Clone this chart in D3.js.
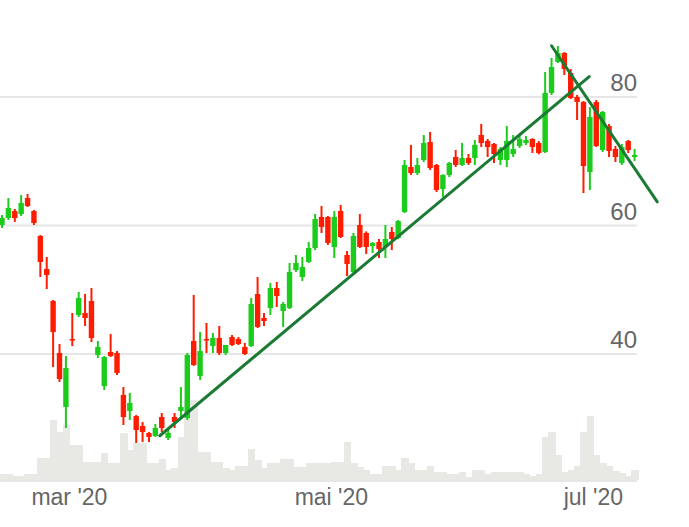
<!DOCTYPE html>
<html>
<head>
<meta charset="utf-8">
<script src="https://cdn.jsdelivr.net/npm/d3@7"></script>
<style>
  html, body { margin: 0; padding: 0; background: #ffffff; }
  svg { display: block; }
</style>
</head>
<body>
<div id="chart"></div>
<script>
// ---- Data ----
const dates = [
  "2020-02-17","2020-02-18","2020-02-19","2020-02-20","2020-02-21","2020-02-24","2020-02-25","2020-02-26","2020-02-27","2020-02-28",
  "2020-03-02","2020-03-03","2020-03-04","2020-03-05","2020-03-06","2020-03-09","2020-03-10","2020-03-11","2020-03-12","2020-03-13",
  "2020-03-16","2020-03-17","2020-03-18","2020-03-19","2020-03-20","2020-03-23","2020-03-24","2020-03-25","2020-03-26","2020-03-27",
  "2020-03-30","2020-03-31","2020-04-01","2020-04-02","2020-04-03","2020-04-06","2020-04-07","2020-04-08","2020-04-14","2020-04-15",
  "2020-04-16","2020-04-17","2020-04-20","2020-04-21","2020-04-22","2020-04-23","2020-04-24","2020-04-27","2020-04-28","2020-04-29",
  "2020-04-30","2020-05-04","2020-05-05","2020-05-06","2020-05-07","2020-05-08","2020-05-11","2020-05-12","2020-05-13","2020-05-14",
  "2020-05-15","2020-05-18","2020-05-19","2020-05-20","2020-05-22","2020-05-25","2020-05-26","2020-05-27","2020-05-28","2020-05-29",
  "2020-06-01","2020-06-02","2020-06-03","2020-06-04","2020-06-05","2020-06-08","2020-06-09","2020-06-10","2020-06-11","2020-06-12",
  "2020-06-15","2020-06-16","2020-06-17","2020-06-18","2020-06-19","2020-06-22","2020-06-23","2020-06-24","2020-06-25","2020-06-26",
  "2020-06-29","2020-06-30","2020-07-01","2020-07-02","2020-07-03","2020-07-06","2020-07-07","2020-07-08","2020-07-09","2020-07-10"
];

const opens = [
  60.00,61.09,62.18,61.71,64.20,62.18,58.29,53.15,48.17,40.08,
  31.68,42.26,45.99,46.30,48.17,39.77,34.94,40.23,40.08,33.54,
  31.05,30.27,28.72,27.63,27.16,30.12,26.85,30.12,31.05,29.96,
  41.95,36.50,42.26,41.17,42.41,40.08,42.57,42.26,41.01,41.17,
  49.26,45.53,47.08,50.20,46.62,47.08,52.99,51.91,54.24,56.42,
  61.25,61.25,56.58,62.18,55.33,52.69,60.00,58.76,56.73,57.35,
  56.58,58.91,57.98,62.02,69.03,68.09,70.12,72.92,69.34,65.60,
  67.78,70.58,69.34,70.43,70.43,74.01,73.07,72.61,70.12,70.12,
  71.05,72.30,72.76,73.39,72.76,71.36,80.55,85.37,86.77,83.66,
  79.92,79.15,68.25,79.15,71.67,75.41,71.83,69.65,73.07,70.58
];
const highs = [
  61.56,64.20,62.49,64.67,64.83,62.34,58.44,55.02,48.33,41.48,
  39.61,46.30,49.57,49.26,50.20,41.95,39.61,43.04,40.39,34.79,
  33.85,30.43,29.34,27.78,29.03,30.74,28.09,30.74,34.79,40.08,
  49.11,43.35,44.75,43.19,44.28,41.33,42.88,42.57,41.64,48.64,
  51.91,46.30,50.98,51.13,48.02,54.09,55.33,55.02,57.35,61.71,
  62.96,61.40,62.18,63.11,55.95,58.76,61.71,59.00,57.35,57.82,
  60.00,59.69,60.78,70.12,72.45,70.43,74.01,74.48,69.50,67.90,
  69.81,71.67,72.76,71.05,73.23,75.72,73.39,72.76,72.14,75.41,
  74.01,73.85,73.85,73.50,73.07,83.81,85.99,87.86,86.90,84.28,
  80.23,79.30,78.37,79.46,77.74,75.72,72.30,72.61,73.23,71.83
];
const lows = [
  59.53,60.78,60.47,61.40,62.80,60.00,51.91,50.04,37.90,35.57,
  28.41,41.17,45.68,44.28,41.79,39.30,34.32,39.46,36.65,28.87,
  29.65,26.07,26.23,26.23,27.00,27.78,26.54,28.41,29.81,29.65,
  38.06,35.88,40.08,40.08,39.77,39.77,41.17,41.33,39.77,41.01,
  43.97,44.28,45.99,47.24,44.13,46.93,52.69,51.29,54.09,56.11,
  58.76,56.89,54.86,57.98,52.06,52.53,56.42,55.49,55.64,54.86,
  54.86,56.11,57.80,61.87,67.78,67.78,69.81,68.56,65.14,64.36,
  67.47,69.03,69.18,69.34,69.34,72.14,70.58,69.65,69.34,69.03,
  70.58,71.98,72.45,71.21,71.00,71.21,80.23,85.21,83.35,79.61,
  76.34,64.98,65.45,72.14,71.36,70.58,69.81,69.34,71.21,69.96
];
const closes = [
  61.09,62.65,61.09,63.43,62.96,60.31,54.24,52.22,43.35,36.03,
  37.74,42.10,48.64,45.53,42.41,41.01,39.46,39.61,36.97,30.12,
  32.30,28.09,27.78,27.00,28.41,28.41,27.63,29.34,31.68,39.77,
  38.21,40.39,42.10,42.41,40.08,41.33,41.33,41.48,39.92,47.71,
  44.13,45.06,50.20,48.95,47.71,52.69,54.09,53.46,56.42,60.93,
  59.69,57.20,61.25,58.13,53.93,58.29,56.58,56.58,57.20,56.27,
  57.82,57.82,60.62,69.34,68.09,69.34,72.76,68.87,65.45,67.78,
  69.65,69.34,70.43,69.65,72.45,72.76,72.14,71.05,71.83,73.07,
  71.83,73.39,73.23,72.14,71.21,80.55,84.59,86.77,84.28,79.77,
  79.15,69.18,76.81,72.30,77.59,71.52,70.58,72.14,71.67,70.89
];
// volume, thousands of shares
const volumes = [
  60,60,40,40,60,60,220,220,600,480,
  550,350,350,180,180,180,270,170,170,470,
  300,370,370,170,170,210,100,120,430,800,
  800,280,280,180,180,120,100,140,140,310,
  200,120,170,170,210,210,130,130,170,170,
  170,170,180,180,380,170,130,100,60,60,
  140,140,100,220,170,100,100,140,80,80,
  60,60,80,30,100,100,60,80,80,80,
  80,80,60,40,60,430,480,250,80,100,
  140,480,640,250,170,140,90,70,40,100
];

const yTicks = [40, 60, 80];
const xTickDates = ["2020-03-02", "2020-05-04", "2020-07-01"];
const xTickLabels = ["mar '20", "mai '20", "jul '20"];

// trend lines: [trading-day index, price]
const trendUp = [[24.7, 27.2], [91.9, 83.1]];
const trendDown = [[86.0, 87.9], [102.55, 63.6]];

// ---- Layout ----
const W = 689, H = 527;
const plotRight = 637;
const volBase = 481;

const svg = d3.select("#chart").append("svg")
  .attr("width", W).attr("height", H)
  .style("font-family", "'Liberation Sans', Arial, Helvetica, sans-serif");

const x = d3.scaleLinear().domain([0, dates.length - 1]).range([2, 634.6]);
const y = d3.scaleLinear().domain([40, 80]).range([353.5, 96.5]);
const yVol = d3.scaleLinear().domain([0, 1000]).range([volBase - 1, volBase - 101]);
const step = x(1) - x(0);

const candles = dates.map((d, i) => ({
  i, date: d, o: opens[i], h: highs[i], l: lows[i], c: closes[i], v: volumes[i]
}));

// gridlines + y labels
const yAxis = d3.axisLeft(y).tickValues(yTicks).tickSize(plotRight).tickPadding(0);
const gy = svg.append("g").attr("transform", `translate(${plotRight},0)`).call(yAxis);
gy.select(".domain").remove();
gy.selectAll(".tick line").attr("stroke", "#e6e6e6").attr("stroke-width", 2);
gy.selectAll(".tick text")
  .attr("x", 0).attr("dy", -6).attr("text-anchor", "end")
  .attr("fill", "#666666").style("font-size", "24px");

// volume columns
svg.append("g").attr("shape-rendering", "crispEdges")
  .selectAll("rect").data(candles).join("rect")
  .attr("x", d => x(d.i) - step / 2)
  .attr("width", step + 1)
  .attr("y", d => yVol(d.v))
  .attr("height", d => yVol(0) - yVol(d.v))
  .attr("fill", "#e8e8e4");

// x axis baseline
svg.append("line")
  .attr("x1", 0).attr("x2", plotRight)
  .attr("y1", volBase).attr("y2", volBase)
  .attr("stroke", "#e6e6e6").attr("stroke-width", 2);

// x axis labels
const xTickIdx = xTickDates.map(d => dates.indexOf(d));
const xAxis = d3.axisBottom(x).tickValues(xTickIdx)
  .tickFormat((d, i) => xTickLabels[i]).tickSize(0).tickPadding(7.5);
const gx = svg.append("g").attr("transform", `translate(3,${volBase})`).call(xAxis);
gx.select(".domain").remove();
gx.selectAll(".tick text").attr("fill", "#666666").style("font-size", "23px");

// candles
const up = "#1ccc1c", down = "#ff1c00";
const gc = svg.append("g");
gc.selectAll("line").data(candles).join("line")
  .attr("x1", d => x(d.i)).attr("x2", d => x(d.i))
  .attr("y1", d => y(d.h)).attr("y2", d => y(d.l))
  .attr("stroke", d => d.c >= d.o ? up : down)
  .attr("stroke-width", 2);
gc.selectAll("rect").data(candles).join("rect")
  .attr("x", d => x(d.i) - 2.7)
  .attr("width", 5.4)
  .attr("y", d => y(Math.max(d.o, d.c)))
  .attr("height", d => Math.max(1.5, Math.abs(y(d.o) - y(d.c))))
  .attr("fill", d => d.c >= d.o ? up : down);

// trend lines
const line = d3.line().x(p => x(p[0])).y(p => y(p[1]));
[trendUp, trendDown].forEach(t => {
  svg.append("path").attr("d", line(t))
    .attr("fill", "none").attr("stroke", "#1b7a33")
    .attr("stroke-width", 3).attr("stroke-linecap", "round");
});
</script>
</body>
</html>
